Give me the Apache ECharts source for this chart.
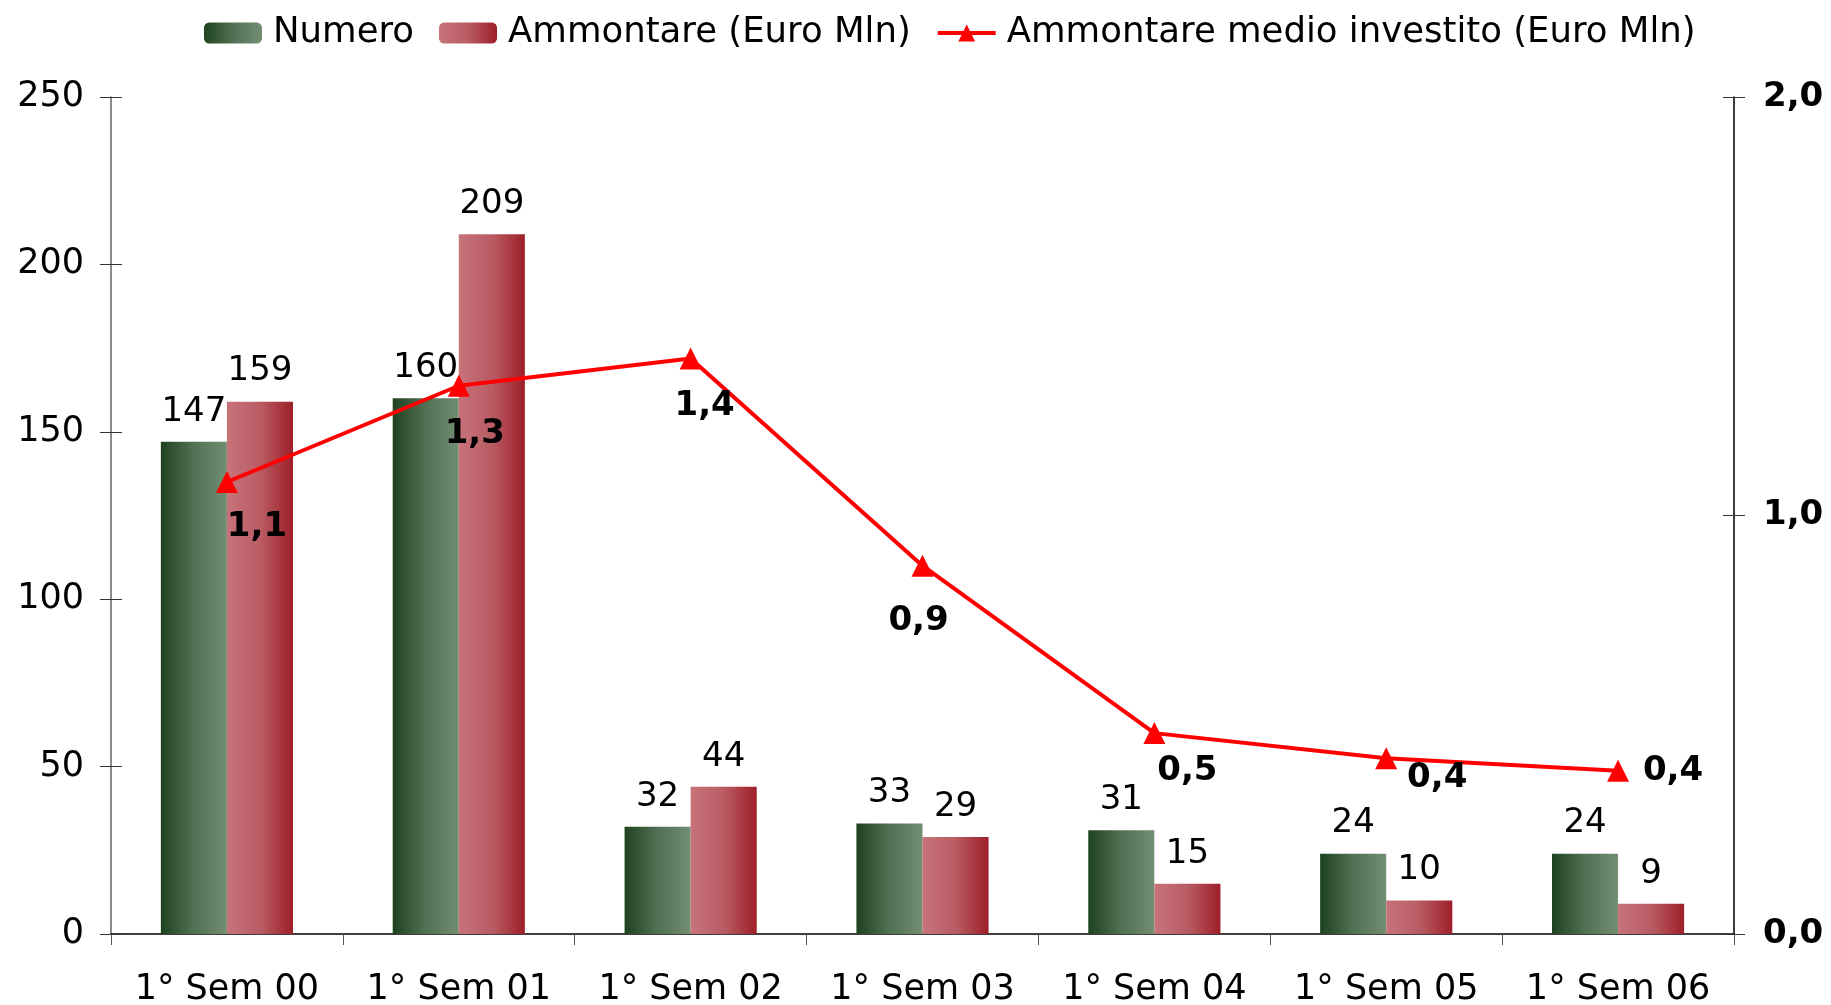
<!DOCTYPE html>
<html>
<head>
<meta charset="utf-8">
<style>
  html, body { margin: 0; padding: 0; background: #fff; }
  #chart { width: 1831px; height: 1005px; }
</style>
<script src="https://cdn.jsdelivr.net/npm/echarts@6/dist/echarts.min.js"></script>
</head>
<body>
<div id="chart"></div>
<script>
// values
const categories = ['1° Sem 00', '1° Sem 01', '1° Sem 02', '1° Sem 03', '1° Sem 04', '1° Sem 05', '1° Sem 06']
const numero = [147, 160, 32, 33, 31, 24, 24]
const ammontare = [159, 209, 44, 29, 15, 10, 9]
const medio = [1.08, 1.31, 1.375, 0.88, 0.48, 0.42, 0.39]
const leftTicks = [0, 50, 100, 150, 200, 250]
const rightTicks = [0, 1, 2]

// where each average label sits relative to its marker
const lineLabelOffsets = [[30, 45], [16, 48], [14, 48], [-4, 55], [33, 38], [51, 20], [55, 0]]

const font = 'DejaVu Sans'
const comma = (v) => v.toFixed(1).replace('.', ',')

const chart = echarts.init(document.getElementById('chart'))

const greenFill = new echarts.graphic.LinearGradient(0, 0, 1, 0, [
  { offset: 0, color: '#1e4220' },
  { offset: 0.5, color: '#527053' },
  { offset: 1, color: '#728e73' }
])
const redFill = new echarts.graphic.LinearGradient(0, 0, 1, 0, [
  { offset: 0, color: '#c7737a' },
  { offset: 0.5, color: '#b95c64' },
  { offset: 1, color: '#9e1f29' }
])

const leftMax = leftTicks[leftTicks.length - 1]
const rightMax = rightTicks[rightTicks.length - 1]

chart.setOption({
  animation: false,
  textStyle: { fontFamily: font },
  legend: {
    top: 10,
    left: 199,
    itemWidth: 58,
    itemHeight: 21,
    itemGap: 25,
    textStyle: { fontSize: 35.5, color: '#000', fontFamily: font, padding: [0, 0, 0, 6] },
    data: [
      { name: 'Numero' },
      { name: 'Ammontare (Euro Mln)' },
      { name: 'Ammontare medio investito (Euro Mln)', lineStyle: { width: 4 }, itemStyle: { color: '#ff0000' } }
    ]
  },
  grid: { left: 111, right: 97, top: 97, bottom: 71, outerBoundsMode: 'none', containLabel: false },
  xAxis: {
    type: 'category',
    data: categories,
    axisLine: { lineStyle: { color: '#000', width: 1.5 } },
    axisTick: { show: true, interval: 0, length: 11, lineStyle: { color: '#555' } },
    axisLabel: { interval: 0, fontSize: 35, color: '#000', margin: 38, fontFamily: font }
  },
  yAxis: [
    {
      type: 'value', min: 0, max: leftMax, interval: 50,
      axisLine: { show: true, lineStyle: { color: '#666', width: 1.5 } },
      axisTick: { show: true, length: 11, lineStyle: { color: '#333' } },
      axisLabel: { fontSize: 35, color: '#000', margin: 27, fontFamily: font },
      splitLine: { show: false }
    },
    {
      type: 'value', min: 0, max: rightMax, interval: 1, position: 'right',
      axisLine: { show: true, lineStyle: { color: '#000', width: 1.5 } },
      axisTick: { show: true, length: 11, lineStyle: { color: '#333' } },
      axisLabel: { fontSize: 34, fontWeight: 'bold', color: '#000', margin: 29, fontFamily: font, formatter: comma },
      splitLine: { show: false }
    },
    {
      // inner half of the crossing ticks on the left axis
      type: 'value', min: 0, max: leftMax, interval: 50, position: 'left',
      axisLine: { show: false },
      axisTick: { show: true, inside: true, length: 11, lineStyle: { color: '#333' } },
      axisLabel: { show: false },
      splitLine: { show: false }
    },
    {
      type: 'value', min: 0, max: rightMax, interval: 1, position: 'right',
      axisLine: { show: false },
      axisTick: { show: true, inside: true, length: 11, lineStyle: { color: '#333' } },
      axisLabel: { show: false },
      splitLine: { show: false }
    }
  ],
  series: [
    {
      name: 'Numero',
      type: 'bar',
      data: numero,
      barGap: '0%',
      barCategoryGap: '43%',
      itemStyle: { color: greenFill },
      label: { show: true, position: 'top', distance: 13, fontSize: 34, color: '#000', fontFamily: font }
    },
    {
      name: 'Ammontare (Euro Mln)',
      type: 'bar',
      data: ammontare,
      itemStyle: { color: redFill },
      label: { show: true, position: 'top', distance: 13, fontSize: 34, color: '#000', fontFamily: font }
    },
    {
      name: 'Ammontare medio investito (Euro Mln)',
      type: 'line',
      yAxisIndex: 1,
      z: 5,
      data: medio.map((v, i) => ({ value: v, label: { offset: lineLabelOffsets[i] } })),
      symbol: 'triangle',
      symbolSize: 22,
      lineStyle: { color: '#ff0000', width: 4 },
      itemStyle: { color: '#ff0000' },
      label: {
        show: true, position: 'inside', fontSize: 34, fontWeight: 'bold', color: '#000', fontFamily: font,
        formatter: (p) => comma(p.value)
      }
    }
  ]
})
</script>
</body>
</html>
